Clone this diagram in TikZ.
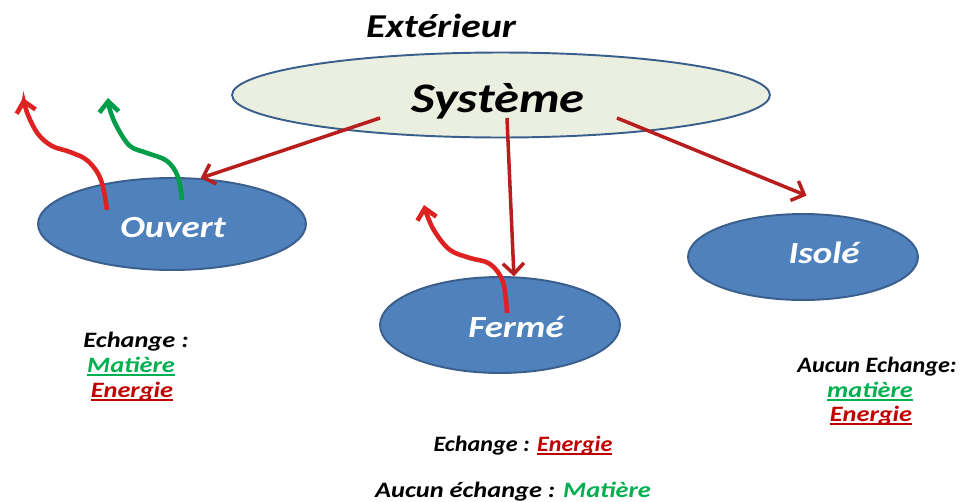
\documentclass[tikz,border=0pt]{standalone}
\usepackage{fontspec}
\setmainfont{Carlito}
\usetikzlibrary{shapes.geometric,arrows.meta}
\definecolor{rougefleche}{HTML}{B81E1E}
\definecolor{rougevif}{HTML}{DE2222}
\definecolor{vert}{HTML}{00B050}
\definecolor{rougetexte}{HTML}{C00000}
\definecolor{bleu}{HTML}{4F81BD}
\definecolor{bleubord}{HTML}{3A5F8C}
\definecolor{beige}{HTML}{EBEFDF}
\newcommand{\etire}[2][1.2]{\scalebox{#1}[1]{#2}}
\newcommand{\souligne}[1]{\setbox0\hbox{#1}\rlap{\rule[-2.2pt]{\wd0}{1pt}}\box0}
\tikzset{
  systeme/.style={ellipse, draw=bleubord, line width=1.1pt, fill=beige, inner sep=0pt},
  sousys/.style={ellipse, draw=bleubord, line width=1.1pt, fill=bleu, inner sep=0pt},
  titre/.style={anchor=base, text=white, font=\fontsize{17.5}{20}\selectfont\bfseries\itshape},
  etiq/.style={anchor=base, font=\fontsize{12.5}{15}\selectfont\bfseries\itshape},
  fleche/.style={-{Straight Barb[length=6pt,width=12pt]}, draw=rougefleche, line width=2pt},
  ondule/.style={-{Straight Barb[length=6pt,width=11pt]}, line width=2.6pt},
}
\begin{document}
\begin{tikzpicture}[x=0.02cm, y=-0.02cm]
\useasboundingbox (0,0) rectangle (960,501);

\node[systeme, minimum width=10.76cm, minimum height=1.7cm] (sys) at (501,95) {};
\node[sousys, minimum width=5.36cm, minimum height=1.84cm] (ouvert) at (172,224) {};
\node[sousys, minimum width=4.8cm, minimum height=1.92cm] (ferme) at (500,325) {};
\node[sousys, minimum width=4.6cm, minimum height=1.72cm] (isole) at (803,257) {};

\node[anchor=base, font=\fontsize{19}{22}\selectfont\bfseries\itshape] (ext) at (441,37) {\etire{Extérieur}};
\node[anchor=base, font=\fontsize{24}{28}\selectfont\bfseries\itshape] (tsys) at (498,112) {\etire{Système}};
\node[titre] (touvert) at (173,237) {\etire{Ouvert}};
\node[titre] (tferme) at (516,337) {\etire{Fermé}};
\node[titre] (tisole) at (824,263) {\etire{Isolé}};

\coordinate (d1) at (380,118);
\coordinate (d2) at (507,118);
\coordinate (d3) at (617,118);
\draw[fleche] (d1) -- (ouvert.58);
\draw[fleche] (d2) -- (ferme.74);
\draw[fleche, shorten >=1.3cm] (d3) -- (isole.30);

\draw[ondule, rougevif] plot[smooth, tension=0.6] coordinates {(107,210) (101,180) (88,161) (70,152) (52,146) (38,134) (28,115) (23,98)};
\draw[ondule, vert!90!black] plot[smooth, tension=0.6] coordinates {(182,200) (178,177) (167,161) (147,153) (130,146) (117,127) (110,110) (108,98)};
\draw[ondule, rougevif] plot[smooth, tension=0.6] coordinates {(507,313) (503,282) (490,264) (470,258) (450,250) (435,232) (427,215) (424,205)};

\node[etiq] (ech1) at (136,347) {\etire{Echange :}};
\node[etiq, text=vert] (mat1) at (131,372) {\etire{\souligne{Matière}}};
\node[etiq, text=rougetexte] (ene1) at (132,397) {\etire{\souligne{Energie}}};
\node[etiq] (ech2) at (523,451) {\etire[1.1]{Echange : \textcolor{rougetexte}{\souligne{Energie}}}};
\node[etiq] (auc2) at (513,497) {\etire{Aucun échange : \textcolor{vert}{Matière}}};
\node[etiq] (auc3) at (877,372) {\etire[1.1]{Aucun Echange:}};
\node[etiq, text=vert] (mat3) at (870,397) {\etire{\souligne{matière}}};
\node[etiq, text=rougetexte] (ene3) at (871,421) {\etire{\souligne{Energie}}};
\end{tikzpicture}
\end{document}
